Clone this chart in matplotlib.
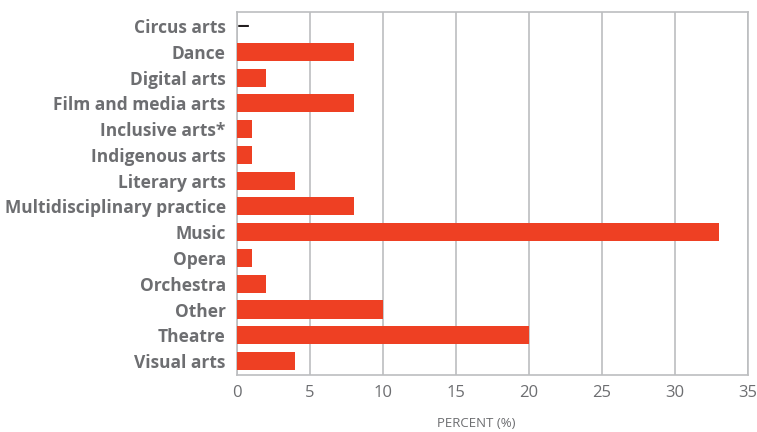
import matplotlib.pyplot as plt

# Data
categories = ['Circus arts', 'Dance', 'Digital arts', 'Film and media arts', 'Inclusive arts*',
              'Indigenous arts', 'Literary arts', 'Multidisciplinary practice', 'Music', 'Opera',
              'Orchestra', 'Other', 'Theatre', 'Visual arts']
percent = [0, 8, 2, 8, 1, 1, 4, 8, 33, 1, 2, 10, 20, 4]
xticks = [0, 5, 10, 15, 20, 25, 30, 35]

fig = plt.figure(figsize=(7.57, 4.32), dpi=100)
ax = fig.add_axes([0.313, 0.132, 0.675, 0.840])

pos = list(range(len(categories)))
ax.barh(pos, percent, height=0.7, color='#ee4023', zorder=3)

# zero values shown as a dash
for p, v in zip(pos, percent):
    if v == 0:
        ax.text(0.0, p, '\u2013', va='center', ha='left', color='#231f20',
                fontsize=19, fontfamily='DejaVu Sans', zorder=4)

ax.set_ylim(len(categories) - 0.46, -0.54)
ax.set_xlim(0, 35)
ax.set_yticks(pos)
ax.set_yticklabels(categories, fontfamily='Open Sans', fontweight='bold', fontsize=12.5, color='#6d6e71')
ax.set_xticks(xticks)
ax.set_xticklabels([str(t) for t in xticks], fontfamily='Open Sans', fontweight='normal',
                   fontsize=12, color='#6d6e71')
ax.tick_params(axis='both', length=0)
ax.tick_params(axis='y', pad=8)
ax.tick_params(axis='x', pad=7)

ax.grid(True, axis='x', color='#bcbec0', linewidth=1.2, zorder=0)
for s in ax.spines.values():
    s.set_color('#bcbec0')
    s.set_linewidth(1.2)

ax.set_xlabel('PERCENT (%)', fontfamily='Open Sans', fontsize=9.5, color='#6d6e71')
ax.xaxis.label.set_va('center')
ax.xaxis.set_label_coords(0.468, -0.133)

fig.savefig('out.png', dpi=100)
